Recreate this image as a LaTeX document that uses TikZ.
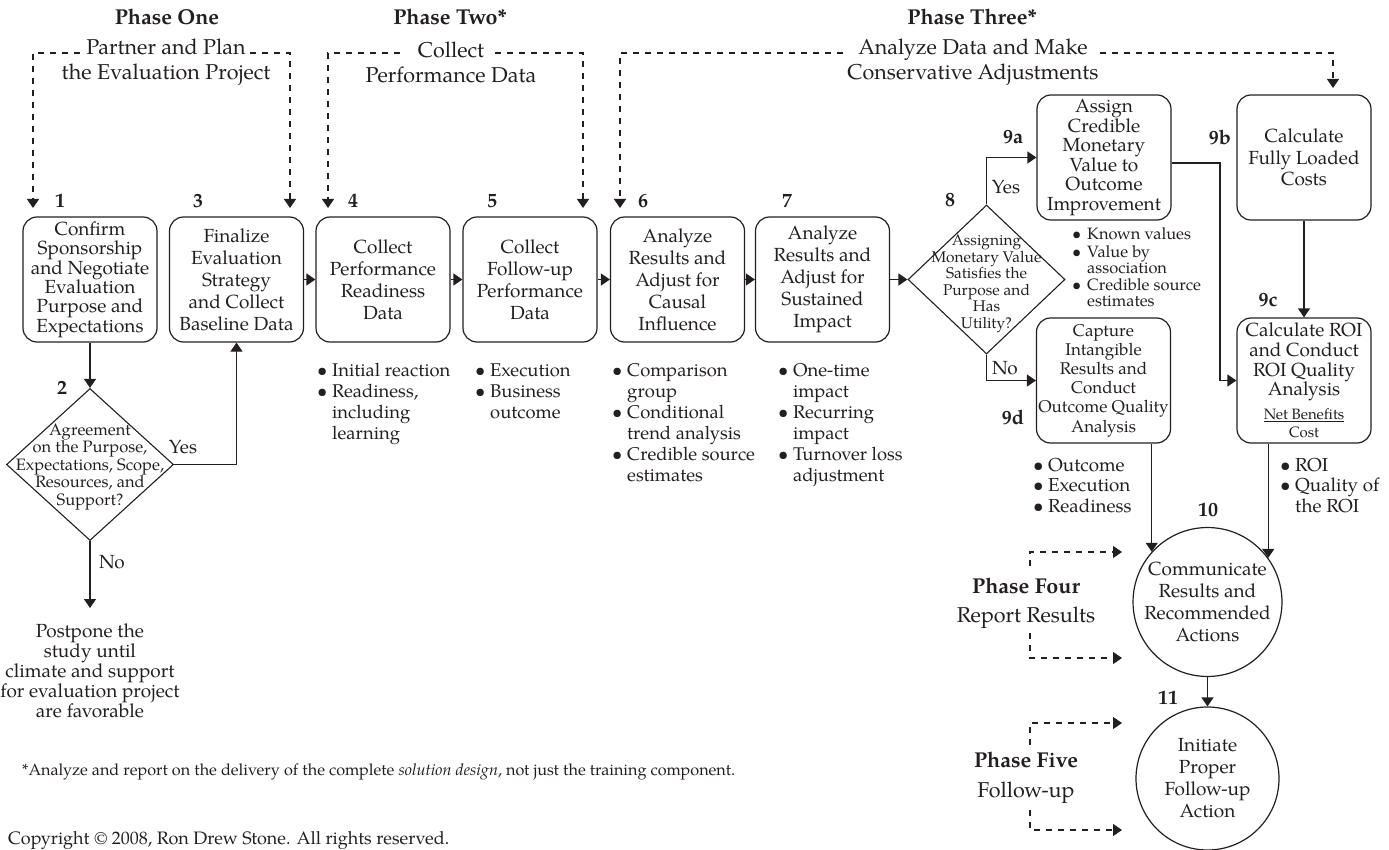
\documentclass[tikz,border=0pt]{standalone}
\usepackage{fontspec}
\setmainfont{TeX Gyre Pagella}
\usepackage{graphicx}
\usetikzlibrary{arrows.meta,shapes.geometric}
\definecolor{ink}{HTML}{231F20}
\newcommand{\fsz}[2]{\fontsize{#1}{#2}\selectfont}
\newcommand{\bul}[1]{\makebox[15pt][l]{\textbullet}#1}
\newcommand{\cont}[1]{\hspace*{15pt}#1}
\begin{document}
\begin{tikzpicture}[x=1pt,y=-1pt,
  every node/.style={text=ink, inner sep=0pt},
  wire/.style={draw=ink, line width=1.2pt},
  arr/.style={wire, -{Triangle[length=9pt,width=12pt]}},
  dsh/.style={wire, dash pattern=on 6pt off 6pt},
  darr/.style={dsh, -{Triangle[length=9pt,width=12pt]}},
  stepbox/.style={draw=ink, line width=1.2pt, rounded corners=14pt,
    minimum width=134pt, minimum height=125pt, align=center},
  decision/.style={draw=ink, line width=1.1pt, diamond,
    minimum width=#1},
  roundstep/.style={draw=ink, line width=1.2pt, circle, minimum size=143pt, align=center,
    font=\fsz{19}{22}},
  num/.style={font=\fsz{20}{22}\bfseries},
  phase/.style={font=\fsz{21.5}{24}\bfseries},
  sub/.style={font=\fsz{21.5}{25}, align=center},
  lbl/.style={font=\fsz{19}{20}},
  blist/.style={anchor=north west, align=left},
]
\useasboundingbox (0,0) rectangle (1389,850);

% ---------- phase headings ----------
\node[phase] (h1) at (167,17) {Phase One};
\node[phase] (h2) at (450,17) {Phase Two*};
\node[phase] (h3) at (972,17) {Phase Three*};

\node[sub] (s1) at (166,62.5) {Partner and Plan\\the Evaluation Project};
\node[sub] (s2) at (451,62.5) {Collect\\Performance Data};
\node[sub] (s3) at (973,62.5) {Analyze Data and Make\\Conservative Adjustments};

% ---------- dashed phase brackets ----------
\coordinate (p1l) at (80,53);   \coordinate (p1lt) at (33,208);
\coordinate (p1r) at (250,53);  \coordinate (p1rt) at (290,208);
\coordinate (p2l) at (400,53);  \coordinate (p2lt) at (328,208);
\coordinate (p2r) at (495,53);  \coordinate (p2rt) at (583,208);
\coordinate (p3l) at (843,53);  \coordinate (p3lt) at (620,208);
\coordinate (p3r) at (1100,53); \coordinate (p3rt) at (1333,88);
\draw[darr] (p1l) -| (p1lt);
\draw[darr] (p1r) -| (p1rt);
\draw[darr] (p2l) -| (p2lt);
\draw[darr] (p2r) -| (p2rt);
\draw[darr] (p3l) -| (p3lt);
\draw[darr] (p3r) -| (p3rt);

% ---------- main row of steps ----------
\node[stepbox, font=\fsz{19}{19.4}] (b1) at (90,279.5)
  {Confirm\\Sponsorship\\and Negotiate\\Evaluation\\Purpose and\\Expectations};
\node[stepbox, font=\fsz{19}{22}] (b3) at (236.5,279.5)
  {Finalize\\Evaluation\\Strategy\\and Collect\\Baseline Data};
\node[stepbox, font=\fsz{19}{22}] (b4) at (383,279.5)
  {Collect\\Performance\\Readiness\\Data};
\node[stepbox, font=\fsz{19}{22}] (b5) at (530,279.5)
  {Collect\\Follow-up\\Performance\\Data};
\node[stepbox, font=\fsz{19}{22}] (b6) at (677.5,279.5)
  {Analyze\\Results and\\Adjust for\\Causal\\Influence};
\node[stepbox, font=\fsz{19}{22}] (b7) at (822.5,279.5)
  {Analyze\\Results and\\Adjust for\\Sustained\\Impact};

\node[num] (n1) at (60,201) {1};
\node[num] (n3) at (198,201) {3};
\node[num] (n4) at (353,201) {4};
\node[num] (n5) at (492,201) {5};
\node[num] (n6) at (643,201) {6};
\node[num] (n7) at (787,201) {7};

% ---------- decision 2 ----------
\node[decision=167pt, minimum height=152pt] (d2) at (90,464.5) {};
\node[font=\fsz{16.5}{17.5}, align=center] (d2t) at (90,467)
  {Agreement\\on the Purpose,\\Expectations, Scope,\\Resources, and\\Support?};
\node[num] (n2) at (62,388) {2};
\node[lbl] (y2) at (183,447) {Yes};
\node[lbl] (no2) at (112,562) {No};
\coordinate (ntip) at (90,608);
\node[font=\fsz{19}{20}, align=center] (post) at (90,671)
  {Postpone the\\study until\\climate and support\\for evaluation project\\are favorable};

% ---------- decision 8 ----------
\node[decision=157pt, minimum height=149pt] (d8) at (986.5,279.5) {};
\node[font=\fsz{15.5}{16.5}, align=center] (d8t) at (986.5,284)
  {Assigning\\Monetary Value\\Satisfies the\\Purpose and\\Has\\Utility?};
\node[num] (n8) at (950,200) {8};
\node[lbl] (y8) at (1006,187) {Yes};
\node[lbl] (no8) at (1005,368) {No};

% ---------- steps 9a to 9d ----------
\node[stepbox, font=\fsz{19}{19.6}] (b9a) at (1104,157.5)
  {Assign\\Credible\\Monetary\\Value to\\Outcome\\Improvement};
\node[stepbox, font=\fsz{19}{21.5}] (b9b) at (1304,157.5)
  {Calculate\\Fully Loaded\\Costs};
\node[stepbox, font=\fsz{19}{19.8}] (b9c) at (1304,380.5)
  {Calculate ROI\\and Conduct\\ROI Quality\\Analysis\\[4pt]{\fsz{15}{15}\underline{Net Benefits}}\\[-1.5pt]{\fsz{15}{15}Cost}};
\node[stepbox, font=\fsz{17}{19.2}] (b9d) at (1103.5,380.5)
  {Capture\\Intangible\\Results and\\Conduct\\Outcome Quality\\Analysis};
\node[num] (n9a) at (1013,137) {9a};
\node[num] (n9b) at (1220,137) {9b};
\node[num] (n9c) at (1268,300) {9c};
\node[num] (n9d) at (1013,417) {9d};
\coordinate (j1) at (1220,380.5);

% ---------- steps 10 and 11 ----------
\node[roundstep] (c10) at (1207.5,602)
  {Communicate\\Results and\\Recommended\\Actions};
\node[roundstep] (c11) at (1207.5,778.5)
  {Initiate\\Proper\\Follow-up\\Action};
\node[num] (n10) at (1208,510) {10};
\node[num] (n11) at (1168,698) {11};

% ---------- phases four and five ----------
\node[phase] (ph4) at (1026,586) {Phase Four};
\node[sub] (ph4s) at (1026,618) {Report Results};
\node[phase] (ph5) at (1026,760) {Phase Five};
\node[sub] (ph5s) at (1026,793) {Follow-up};
\coordinate (q1) at (1030,566); \coordinate (q1t) at (1122,552);
\coordinate (q2) at (1030,633); \coordinate (q2t) at (1122,658);
\coordinate (q3) at (1030,745); \coordinate (q3t) at (1122,723);
\coordinate (q4) at (1030,810); \coordinate (q4t) at (1122,830);
\draw[darr] (q1) |- (q1t);
\draw[darr] (q2) |- (q2t);
\draw[darr] (q3) |- (q3t);
\draw[darr] (q4) |- (q4t);

% ---------- bullet lists ----------
\node[blist, font=\fsz{18.4}{21}] (l4) at (317,361.3)
  {\strut\bul{Initial reaction}\\\bul{Readiness,}\\\cont{including}\\\cont{learning}};
\node[blist, font=\fsz{18.4}{21}] (l5) at (475,361.3)
  {\strut\bul{Execution}\\\bul{Business}\\\cont{outcome}};
\node[blist, font=\fsz{18.4}{21}] (l6) at (612,361.3)
  {\strut\bul{Comparison}\\\cont{group}\\\bul{Conditional}\\\cont{trend analysis}\\\bul{Credible source}\\\cont{estimates}};
\node[blist, font=\fsz{18.4}{21}] (l7) at (778,361.3)
  {\strut\bul{One-time}\\\cont{impact}\\\bul{Recurring}\\\cont{impact}\\\bul{Turnover loss}\\\cont{adjustment}};
\node[blist, font=\fsz{16.4}{16.5}] (l9a) at (1072,227.5)
  {\strut\bul{Known values}\\\bul{Value by}\\\cont{association}\\\bul{Credible source}\\\cont{estimates}};
\node[blist, font=\fsz{18.8}{20.5}] (l9d) at (1033,456.6)
  {\strut\bul{Outcome}\\\bul{Execution}\\\bul{Readiness}};
\node[blist, font=\fsz{18.8}{20.5}] (l9c) at (1280,456.6)
  {\strut\bul{ROI}\\\bul{Quality of}\\\cont{the ROI}};

% ---------- connectors ----------
\draw[arr] (b1.south) -- (b1.south |- d2.north);
\draw[arr] (d2.east) -| (b3.south);
\draw[arr] (d2.south) -- (ntip);
\draw[arr] (b3.east) -- (b4.west);
\draw[arr] (b4.east) -- (b5.west);
\draw[arr] (b5.east) -- (b6.west);
\draw[arr] (b6.east) -- (b7.west);
\draw[arr] (b7.east) -- (d8.west);
\draw[arr] (d8.north) |- (b9a.west);
\draw[arr] (d8.south) |- (b9d.west);
\draw[arr] ([yshift=-5.5pt]b9a.east) -| (j1) -- (b9c.west);
\draw[arr] (b9b.south) -- (b9c.north);
\draw[arr] (c10.138 |- b9d.south) -- (c10.138);
\draw[arr] (c10.36.5 |- b9c.south) -- (c10.36.5);
\draw[arr] (c10.south) -- (c11.north);

% ---------- notes ----------
\node[anchor=base west] (fn) at (22,775)
  {\resizebox{713pt}{!}{\fsz{15}{17}*Analyze and report on the delivery of the complete \textit{solution design}, not just the training component.}};
\node[anchor=base west, font=\fsz{18}{20}] (cr) at (8,844)
  {Copyright \textcopyright\ 2008, Ron Drew Stone. All rights reserved.};
\end{tikzpicture}
\end{document}
